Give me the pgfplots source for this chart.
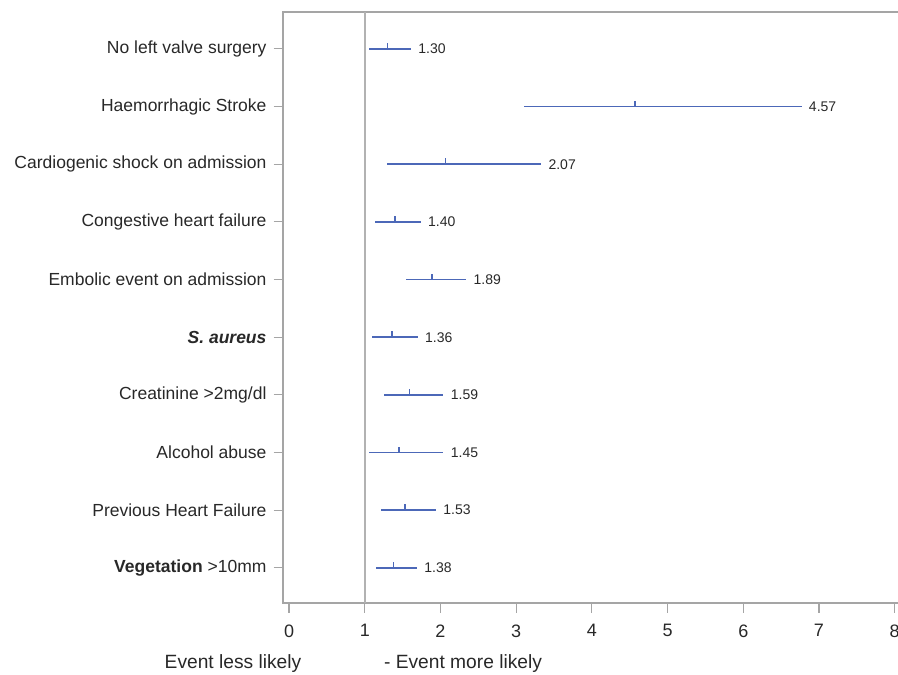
\documentclass[border=0pt]{standalone}
\usepackage{fontspec}
\setmainfont{Liberation Sans}
\usepackage{pgfplots}
\pgfplotsset{compat=1.18}
\usepackage{pgfplotstable}
\definecolor{ciblue}{RGB}{76,104,184}
\definecolor{txt}{RGB}{40,40,40}
\definecolor{axgray}{RGB}{165,165,165}
\pgfdeclareplotmark{uptick}{\pgfpathmoveto{\pgfpointorigin}\pgfpathlineto{\pgfpoint{0pt}{3pt}}\pgfusepathqstroke}
\pgfplotstableread{
y est lo hi lab
10 1.30 1.06 1.61 1.30
9 4.57 3.10 6.77 4.57
8 2.07 1.30 3.33 2.07
7 1.40 1.14 1.74 1.40
6 1.89 1.55 2.34 1.89
5 1.36 1.10 1.70 1.36
4 1.59 1.26 2.04 1.59
3 1.45 1.05 2.04 1.45
2 1.53 1.22 1.94 1.53
1 1.38 1.15 1.69 1.38
}\ortable
\begin{document}
\begin{tikzpicture}
\begin{axis}[
  at={(141.5pt,-6pt)}, anchor=north west,
  scale only axis, width=308.5pt, height=295.5pt,
  xmin=-0.08, xmax=8.07, ymin=0.39, ymax=10.64,
  xtick={0,1,2,3,4,5,6,7,8},
  ytick={1,2,3,4,5,6,7,8,9,10},
  yticklabels={{\textbf{Vegetation} >10mm},{Previous Heart Failure},{Alcohol abuse},{Creatinine >2mg/dl},{\textbf{\textit{S. aureus}}},{Embolic event on admission},{Congestive heart failure},{Cardiogenic shock on admission},{Haemorrhagic Stroke},{No left valve surgery}},
  xtick pos=bottom, ytick pos=left,
  tick align=outside,
  major tick length=4.75pt,
  axis line style={axgray, line width=0.6pt},
  tick style={axgray, line width=0.6pt},
  tick label style={text=txt},
  yticklabel style={font=\fontsize{8.75}{10}\selectfont},
  xticklabel style={font=\fontsize{9}{10}\selectfont, yshift=-2.5pt},
  /pgf/number format/assume math mode=true,
  clip=false,
]
\addplot[axgray!85, line width=1pt] coordinates {(1,0.39) (1,10.64)};
\addplot[ciblue, line width=0.75pt, only marks, mark=uptick,
  mark options={line width=0.7pt},
  error bars/.cd, x dir=both, x explicit,
  error bar style={ciblue, line width=0.75pt}, error mark=none]
  table[x=est, y=y, x error plus expr=\thisrow{hi}-\thisrow{est}, x error minus expr=\thisrow{est}-\thisrow{lo}] {\ortable};
\addplot[draw=none, mark=none, nodes near coords, point meta=explicit symbolic,
  nodes near coords style={anchor=west, font=\fontsize{7}{8}\selectfont, text=txt, inner sep=0pt, xshift=3.5pt}]
  table[x=hi, y=y, meta=lab] {\ortable};
\end{axis}
\node[anchor=base, font=\fontsize{9.6}{11}\selectfont, text=txt] at (116.5pt,-334pt) {Event less likely};
\node[anchor=base, font=\fontsize{9.6}{11}\selectfont, text=txt] at (231.5pt,-334pt) {- Event more likely};
\pgfresetboundingbox
\path[use as bounding box] (0,0) rectangle (449pt,-337pt);
\end{tikzpicture}
\end{document}
